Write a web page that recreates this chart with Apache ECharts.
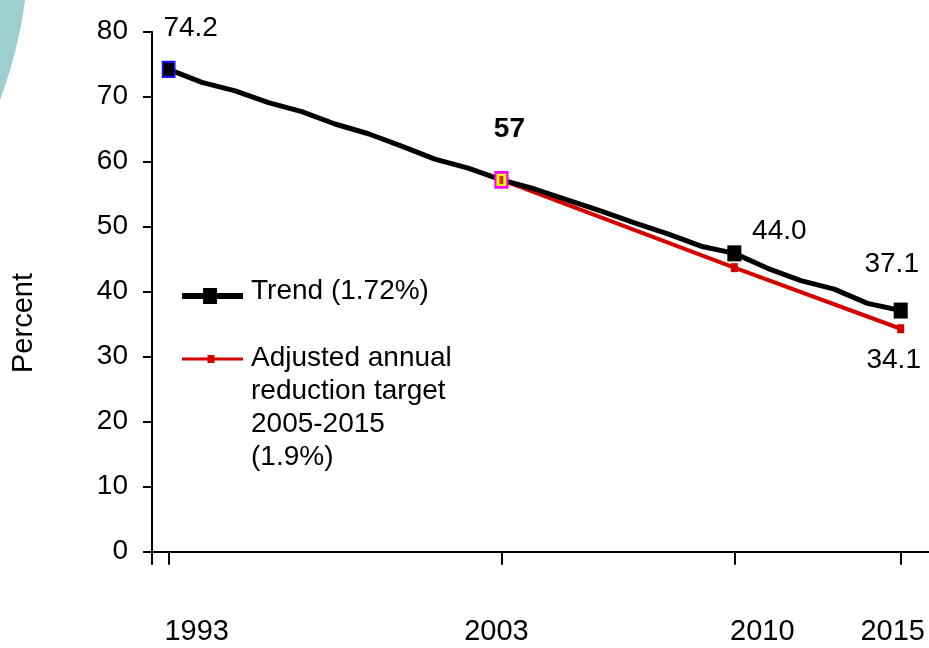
<!DOCTYPE html>
<html>
<head>
<meta charset="utf-8">
<title>Trend</title>
<script src="https://cdn.jsdelivr.net/npm/echarts@6/dist/echarts.min.js"></script>
<style>
html, body { margin: 0; padding: 0; background: #fff; }
#chart { width: 929px; height: 648px; }
</style>
</head>
<body>
<div id="chart"></div>
<script>
// values
var years = [1993, 1994, 1995, 1996, 1997, 1998, 1999, 2000, 2001, 2002, 2003, 2004,
    2005, 2006, 2007, 2008, 2009, 2010, 2011, 2012, 2013, 2014, 2015];
var trend = [74.2, 72.2, 70.9, 69.1, 67.7, 65.8, 64.3, 62.4, 60.4, 59.0, 57.2, 55.8,
    54.1, 52.4, 50.6, 48.9, 47.0, 45.9, 43.6, 41.7, 40.4, 38.2, 37.1];
var targetYears = [2003, 2010, 2015];
var target = [57.2, 43.7, 34.3];
var xTickYears = [1993, 2003, 2010, 2015];
var yTicks = [0, 10, 20, 30, 40, 50, 60, 70, 80];
var trendLabels = { 1993: "74.2", 2003: "57", 2010: "44.0", 2015: "37.1" };
var targetLabels = { 2015: "34.1" };

var FONT = "'Liberation Sans', Arial, sans-serif";
var RED = "#d40000";

// label offsets from the point (px)
var trendLabelOff = { 1993: [22, -41], 2003: [8, -51], 2010: [45, -22], 2015: [-9, -46] };
var xLabelShift = [28, -5, 28, -8];

var trendData = years.map(function(y, i) {
    var item = { value: [y, trend[i]] };
    if (y == 1993) {
        item.symbol = "rect";
        item.symbolSize = [12, 15];
        item.itemStyle = { color: "#000", borderColor: "#1414ff", borderWidth: 2 };
    } else if (y == 2003) {
        item.symbol = "rect";
        item.symbolSize = [12, 15];
        item.itemStyle = { color: "#ffff00", borderColor: "#ff00ff", borderWidth: 2.5 };
    } else if (y == 2010 || y == 2015) {
        item.symbol = "rect";
        item.symbolSize = [14, 16];
        item.itemStyle = { color: "#000" };
    }
    if (trendLabels[y]) {
        item.label = {
            show: true,
            position: "inside",
            formatter: trendLabels[y],
            offset: trendLabelOff[y],
            fontSize: 28,
            fontFamily: FONT,
            fontWeight: y == 2003 ? "bold" : "normal",
            color: "#000"
        };
    }
    return item;
});

var targetData = targetYears.map(function(y, i) {
    var item = { value: [y, target[i]] };
    if (y == 2003) item.symbolSize = 0;
    if (targetLabels[y]) {
        item.label = {
            show: true,
            position: "inside",
            formatter: targetLabels[y],
            offset: [-7, 32],
            fontSize: 28,
            fontFamily: FONT,
            color: "#000"
        };
    }
    return item;
});

var rich = {};
xTickYears.forEach(function(y, i) {
    var s = xLabelShift[i];
    rich["s" + i] = {
        fontSize: 29,
        fontFamily: FONT,
        color: "#000",
        padding: s > 0 ? [0, 0, 0, 2 * s] : [0, -2 * s, 0, 0]
    };
});

var chart = echarts.init(document.getElementById("chart"), null, { renderer: "canvas" });

chart.setOption({
    animation: false,
    backgroundColor: "#fff",
    grid: {
        left: 152,
        right: 0,
        top: 31.7,
        bottom: 96.3,
        containLabel: false,
        outerBoundsMode: "none"
    },
    xAxis: {
        type: "value",
        min: 1992.5,
        max: 2015.85,
        splitLine: { show: false },
        axisLine: { show: true, lineStyle: { color: "#000", width: 2 } },
        axisTick: {
            show: true,
            length: 13,
            customValues: [1992.5].concat(xTickYears),
            lineStyle: { color: "#000", width: 2 }
        },
        axisLabel: {
            customValues: xTickYears,
            margin: 66,
            formatter: function(v) {
                var i = xTickYears.indexOf(v);
                return "{s" + i + "|" + v + "}";
            },
            rich: rich
        }
    },
    yAxis: {
        type: "value",
        min: 0,
        max: 80,
        interval: 10,
        splitLine: { show: false },
        axisLine: { show: true, lineStyle: { color: "#000", width: 2 } },
        axisTick: { show: true, length: 9, lineStyle: { color: "#000", width: 2 } },
        axisLabel: {
            margin: 24,
            fontSize: 28,
            fontFamily: FONT,
            color: "#000",
            formatter: function(v) {
                return yTicks.indexOf(v) >= 0 ? String(v) : "";
            }
        }
    },
    graphic: [
        {
            type: "circle",
            z: -10,
            silent: true,
            shape: { cx: -427, cy: -60, r: 456 },
            style: { fill: "#9dcfcf" }
        },
        {
            type: "text",
            x: 24,
            y: 323,
            rotation: Math.PI / 2,
            style: {
                text: "Percent",
                fontSize: 29,
                fontFamily: FONT,
                fill: "#000",
                align: "center",
                verticalAlign: "middle"
            }
        },
        // legend
        {
            type: "line",
            shape: { x1: 182, y1: 296, x2: 243, y2: 296 },
            style: { stroke: "#000", lineWidth: 6 }
        },
        {
            type: "rect",
            shape: { x: 203, y: 288, width: 14, height: 16 },
            style: { fill: "#000" }
        },
        {
            type: "text",
            x: 251,
            y: 291,
            style: {
                text: "Trend (1.72%)",
                fontSize: 28,
                fontFamily: FONT,
                fill: "#000",
                verticalAlign: "middle"
            }
        },
        {
            type: "line",
            shape: { x1: 182, y1: 359, x2: 243, y2: 359 },
            style: { stroke: RED, lineWidth: 3 }
        },
        {
            type: "rect",
            shape: { x: 207.5, y: 355, width: 7, height: 8 },
            style: { fill: RED }
        },
        {
            type: "text",
            x: 251,
            y: 342,
            style: {
                text: "Adjusted annual\nreduction target\n2005-2015\n(1.9%)",
                fontSize: 28,
                lineHeight: 33,
                fontFamily: FONT,
                fill: "#000",
                verticalAlign: "top"
            }
        }
    ],
    series: [
        {
            name: "Adjusted annual reduction target 2005-2015 (1.9%)",
            type: "line",
            z: 2,
            symbol: "rect",
            symbolSize: [7, 9],
            itemStyle: { color: RED },
            lineStyle: { color: RED, width: 4 },
            data: targetData
        },
        {
            name: "Trend (1.72%)",
            type: "line",
            z: 3,
            symbol: "none",
            lineStyle: { color: "#000", width: 5 },
            itemStyle: { color: "#000" },
            data: trendData
        },
        {
            // red centre of the 2003 marker
            type: "scatter",
            z: 4,
            symbol: "rect",
            symbolSize: [4, 8],
            itemStyle: { color: "#c00000" },
            data: [[targetYears[0], target[0]]]
        }
    ]
});
</script>
</body>
</html>
